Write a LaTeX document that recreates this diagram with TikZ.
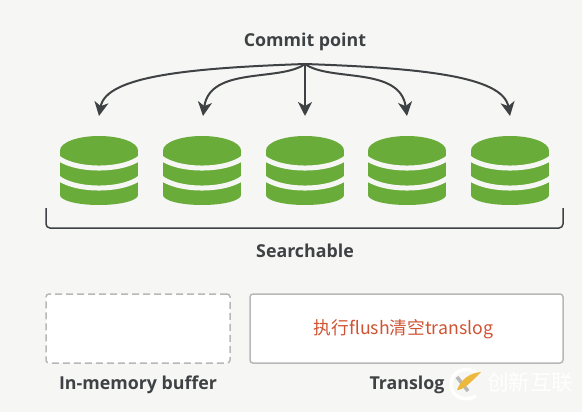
\documentclass[tikz,border=0pt]{standalone}
\usepackage{fontspec}
\setmainfont{Open Sans}
\newfontfamily\cjkfont{Noto Sans CJK SC}
\usepackage{tikz}
\usetikzlibrary{arrows.meta,positioning,calc}
\definecolor{segbg}{HTML}{F6F6F4}
\definecolor{seggreen}{HTML}{69AC3A}
\definecolor{segink}{HTML}{3F4244}
\definecolor{boxgray}{HTML}{B8B8B8}
\definecolor{flushred}{HTML}{CF5433}
\definecolor{logoyellow}{HTML}{EDB93C}

\begin{document}
\begin{tikzpicture}[
    x=1pt, y=-1pt,
    caption/.style={font=\fontsize{17.8}{20}\selectfont\bfseries, text=segink, inner sep=0pt},
    arrow/.style={-{Stealth[length=14pt, width=14pt, inset=4pt]}, line width=2pt, draw=segink},
    buffer/.style={draw=boxgray, fill=white, line width=1.5pt, rounded corners=3pt, minimum height=69pt, inner sep=0pt},
    segment/.pic={
        \fill[seggreen] (0,-1.5) ellipse [x radius=39pt, y radius=14.5pt];
        \fill[seggreen] (-39,-1.5) rectangle (39,43);
        \fill[seggreen] (0,43) ellipse [x radius=39pt, y radius=10pt];
        \begin{scope}
            \clip (-39,-30) rectangle (39,65);
            \draw[segbg, line width=5pt] (-45,2) .. controls (-30,20.7) and (30,20.7) .. (45,2);
            \draw[segbg, line width=5pt] (-45,22) .. controls (-30,40.7) and (30,40.7) .. (45,22);
        \end{scope}
    }
]
    \useasboundingbox (0,0) rectangle (582,412);
    \fill[segbg] (0,0) rectangle (582,412);

    \node[caption] (commit) at (305,42) {Commit point};
    \coordinate (hub) at (305,64);

    \pic at (99,152) {segment};
    \pic at (202,152) {segment};
    \pic at (305,152) {segment};
    \pic at (407,152) {segment};
    \pic at (510,152) {segment};

    \coordinate (seg1) at (99,116);
    \coordinate (seg2) at (203,116);
    \coordinate (seg3) at (305,116);
    \coordinate (seg4) at (407,116);
    \coordinate (seg5) at (510,116);

    \draw[arrow] (hub) .. controls (190,68) and (106,76) .. (seg1);
    \draw[arrow] (hub) .. controls (280,82) and (210,66) .. (seg2);
    \draw[arrow] (hub) -- (seg3);
    \draw[arrow] (hub) .. controls (330,82) and (400,66) .. (seg4);
    \draw[arrow] (hub) .. controls (420,68) and (503,76) .. (seg5);

    \coordinate (left) at (46,208);
    \coordinate (right) at (563,208);
    \draw[segink, line width=1.5pt, rounded corners=4pt] (left) -- (46,228) -- (563,228) -- (right);
    \node[caption] (search) at (305,251) {Searchable};

    \node[buffer, dashed, dash pattern=on 7pt off 4pt, minimum width=184pt] (mem) at (138,328.5) {};
    \node[buffer, minimum width=313pt] (log) at (406.5,328.5) {};
    \node[font=\cjkfont\fontsize{17.7}{20}\selectfont, text=flushred, inner sep=0pt] (flush) at (403.5,329) {执行flush清空translog};

    \node[caption] (memlabel) at (138,385) {In-memory buffer};
    \node[caption] (loglabel) at (407,385) {Translog};

    \draw[white, line width=3.5pt] (476,372) .. controls (466,366) and (451,371) .. (451,384) .. controls (451,398) and (466,402) .. (476,396);
    \draw[boxgray, line width=3.5pt] (457,377) -- (468,391);
    \fill[logoyellow] (481,372) .. controls (470,373) and (461,379) .. (457,390) .. controls (464,390) and (471,382) .. (481,372) -- cycle;
    \node[font=\cjkfont\fontsize{21.5}{24}\selectfont, text=white, inner sep=0pt] (mark) at (530,382) {创新互联};
\end{tikzpicture}
\end{document}
